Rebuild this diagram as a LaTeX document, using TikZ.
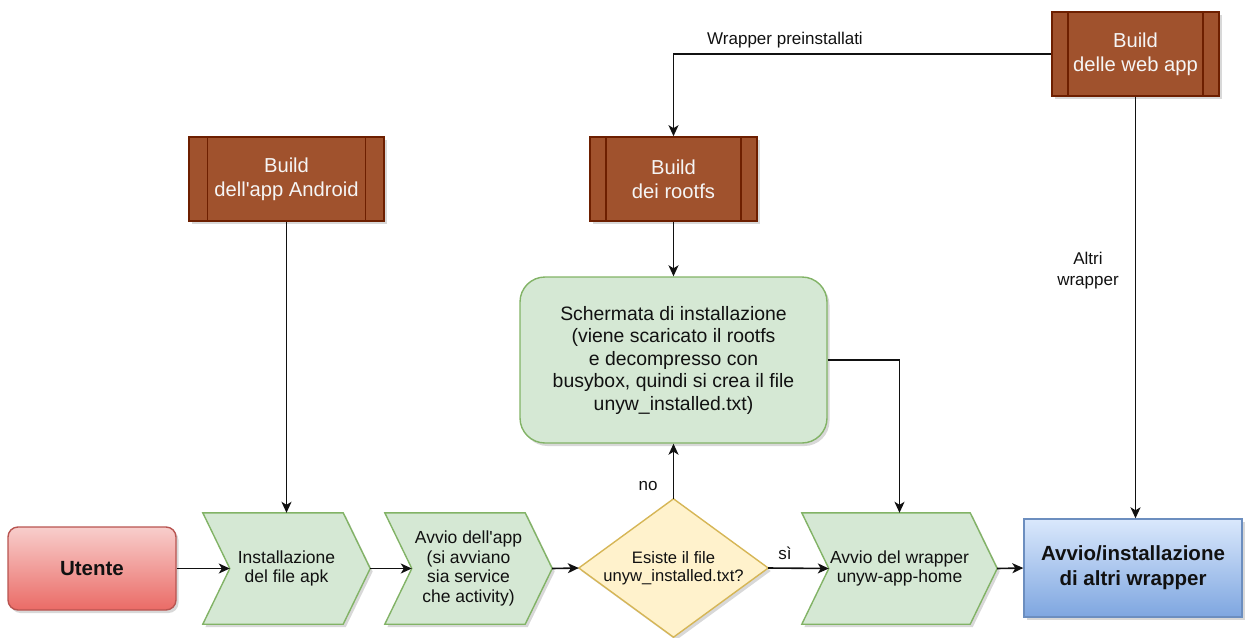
\documentclass[tikz,border=0pt]{standalone}
\usepackage{fontspec}
\setmainfont{Liberation Sans}
\usetikzlibrary{arrows.meta,shadows,calc}
\pgfdeclarelayer{bg}
\pgfsetlayers{bg,main}
\definecolor{gfill}{HTML}{D5E8D4}
\definecolor{gline}{HTML}{82B366}
\definecolor{yfill}{HTML}{FFF2CC}
\definecolor{yline}{HTML}{D6B656}
\definecolor{bfill}{HTML}{A0522D}
\definecolor{bline}{HTML}{6D1F00}
\definecolor{rtop}{HTML}{F8CECC}
\definecolor{rbot}{HTML}{EA6B66}
\definecolor{rline}{HTML}{B85450}
\definecolor{btop}{HTML}{DAE8FC}
\definecolor{bbot}{HTML}{7EA6E0}
\definecolor{blline}{HTML}{6C8EBF}
\definecolor{txt}{HTML}{111111}
\begin{document}
\begin{tikzpicture}[x=1pt,y=-1pt,
  shd/.style={drop shadow={shadow xshift=2.5pt,shadow yshift=-3pt,opacity=0.22,fill=black!70}},
  conn/.style={draw=txt,line width=1.6pt,-{Stealth[length=11pt,width=10pt,inset=3pt]}},
  chevtext/.style={inner sep=0pt,align=center,text=txt,font=\fontsize{17.5}{19.8}\selectfont},
  chevshape/.style={fill=gfill,draw=gline,line width=1.4pt,line join=miter,shd},
  buildbox/.style={rectangle,fill=bfill,draw=bline,line width=1.6pt,inner sep=0pt,align=center,text=white!96!black,font=\fontsize{20.2}{24.2}\selectfont,shd},
  lbl/.style={inner sep=0pt,align=center,text=txt,font=\fontsize{17}{21}\selectfont}]
\useasboundingbox (0,0) rectangle (1246,637);

% Utente
\node[rectangle,rounded corners=10pt,top color=rtop,bottom color=rbot,draw=rline,line width=1.4pt,
  minimum width=168pt,minimum height=83pt,inner sep=0pt,text=txt,font=\bfseries\fontsize{20.5}{24}\selectfont,shd] (ut) at (92,568.5) {Utente};

% chevrons
\node[chevtext,minimum width=167pt,minimum height=111pt] (c1) at (286.5,568.5) {Installazione\\del file apk};
\node[chevtext,minimum width=167pt,minimum height=111pt] (c2) at (468.5,568.5) {Avvio dell\textquotesingle app\\(si avviano\\sia service\\che activity)};
\node[chevtext,minimum width=195pt,minimum height=111pt] (c3) at (899.5,568.5) {Avvio del wrapper\\unyw-app-home};
\begin{pgfonlayer}{bg}
\foreach \c in {c1,c2,c3}{
  \draw[chevshape] (\c.north west) -- ([xshift=-27pt]\c.north east) -- (\c.east) -- ([xshift=-27pt]\c.south east) -- (\c.south west) -- ([xshift=27pt]\c.west) -- cycle;
}
\end{pgfonlayer}

% diamond
\node[inner sep=0pt,minimum width=189pt,minimum height=138pt,align=center,text=txt,font=\fontsize{16.6}{18.5}\selectfont] (dia) at (673.5,568) {Esiste il file\\unyw\_installed.txt?};
\begin{pgfonlayer}{bg}
\draw[fill=yfill,draw=yline,line width=1.4pt,shd] (dia.north) -- (dia.east) -- (dia.south) -- (dia.west) -- cycle;
\end{pgfonlayer}

% blue box
\node[rectangle,top color=btop,bottom color=bbot,draw=blline,line width=1.4pt,
  minimum width=218pt,minimum height=98pt,inner sep=0pt,align=center,text=txt,font=\bfseries\fontsize{20.5}{25}\selectfont,shd] (bl) at (1133,568) {Avvio/installazione\\di altri wrapper};

% installation screen
\node[rectangle,rounded corners=25pt,fill=gfill,draw=gline,line width=1.4pt,minimum width=307pt,minimum height=166pt,
  inner sep=0pt,align=center,text=txt,font=\fontsize{19.4}{22.5}\selectfont,shd] (inst) at (673.5,360)
  {Schermata di installazione\\(viene scaricato il rootfs\\e decompresso con\\busybox, quindi si crea il file\\unyw\_installed.txt)};

% build boxes
\node[buildbox,minimum width=195pt,minimum height=84pt] (ba) at (286.5,179) {Build\\dell\textquotesingle app Android};
\node[buildbox,minimum width=167pt,minimum height=84pt] (br) at (673.5,179) {Build\\dei rootfs};
\node[buildbox,minimum width=167pt,minimum height=84pt] (bw) at (1135.5,54) {Build\\delle web app};
\draw[bline,line width=1.4pt] ([xshift=19.5pt]ba.north west) -- ([xshift=19.5pt]ba.south west)
  ([xshift=-19.5pt]ba.north east) -- ([xshift=-19.5pt]ba.south east);
\foreach \b in {br,bw}{
  \draw[bline,line width=1.4pt] ([xshift=16.7pt]\b.north west) -- ([xshift=16.7pt]\b.south west)
    ([xshift=-16.7pt]\b.north east) -- ([xshift=-16.7pt]\b.south east);
}

% connectors
\draw[conn] (ut.east) -- ([xshift=27pt]c1.west);
\draw[conn] (ba.south) -- (c1.north);
\draw[conn] (c1.east) -- ([xshift=27pt]c2.west);
\draw[conn] (c2.east) -- (dia.west);
\draw[conn] (dia.north) -- (inst.south);
\draw[conn] (dia.east) -- ([xshift=27pt]c3.west);
\draw[conn] (br.south) -- (inst.north);
\draw[conn] (bw.west) -| (br.north);
\draw[conn] (bw.south) -- (bw.south |- bl.north);
\draw[conn] (inst.east) -| (c3.north);
\draw[conn] (c3.east) -- (bl.west);

% labels
\node[lbl] (lwp) at (785,40) {Wrapper preinstallati};
\node[lbl] (law) at (1088,271) {Altri\\wrapper};
\node[lbl] (lno) at (648,486) {no};
\node[lbl] (lsi) at (785,553) {sì};
\end{tikzpicture}
\end{document}
